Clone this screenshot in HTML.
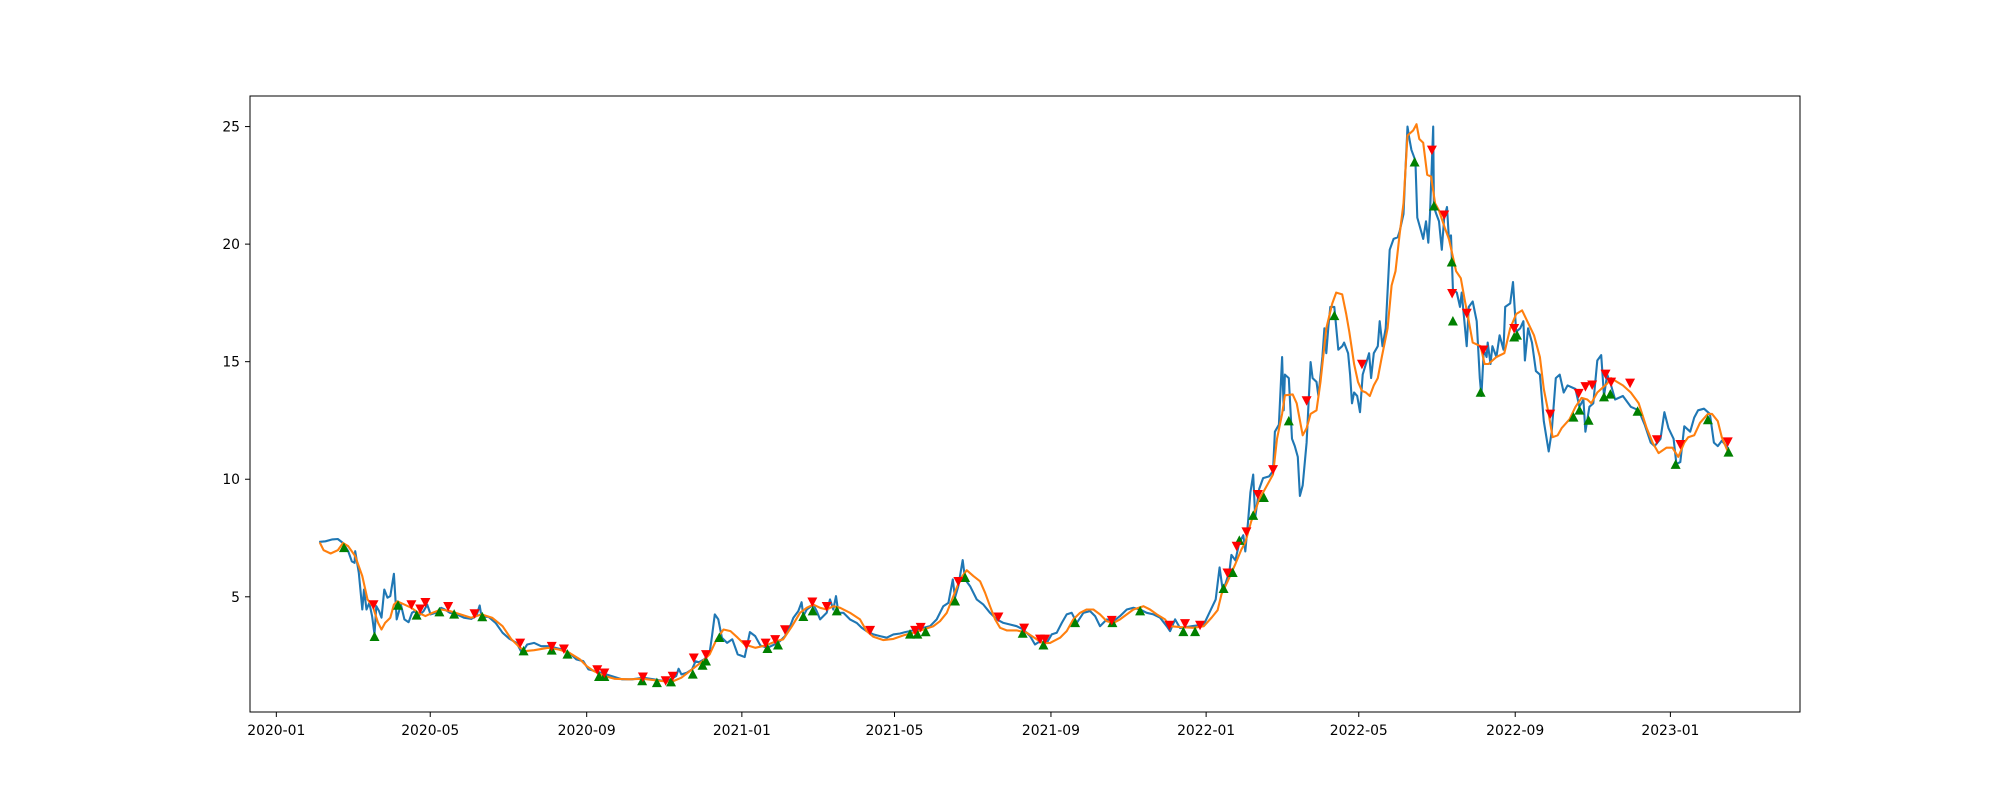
<!DOCTYPE html>
<html><head><meta charset="utf-8"><style>
html,body{margin:0;padding:0;background:#fff;}
svg{display:block;font-family:"DejaVu Sans","Liberation Sans",sans-serif;}
</style></head><body>
<svg id="chart" width="2000" height="800" viewBox="0 0 2000 800" xmlns="http://www.w3.org/2000/svg">
<rect width="2000" height="800" fill="#fff"/>
<g id="plot"></g>
<rect x="250" y="96" width="1550" height="616" fill="none" stroke="#000" stroke-width="1"/>
<g id="xaxis"></g>
<g id="yaxis"></g>
</svg>
<script>
// days since 2020-01-01
const priceDays=[34.5,38.6,44.1,48.3,52.4,56.5,59.3,61.5,62.0,64.8,67.6,68.9,70.9,73.1,75.3,77.2,78.6,80.8,82.7,84.9,87.4,89.6,92.4,94.6,97.9,100.7,104.0,106.7,108.9,111.7,115.8,118.6,121.3,125.5,129.6,132.4,136.5,142.0,147.5,153.1,157.2,159.9,161.3,166.8,172.4,177.9,183.4,188.9,193.0,197.2,202.7,208.2,213.7,219.2,224.8,230.3,235.8,241.3,245.4,251.0,255.1,263.4,271.6,279.9,288.2,296.5,304.7,310.3,314.4,316.3,318.5,322.7,326.8,329.6,332.3,336.5,340.6,342.5,344.7,347.5,350.3,354.4,358.5,362.7,368.2,372.3,376.5,380.6,386.1,391.6,395.8,399.9,403.9,406.5,410.4,413.0,414.3,417.0,422.2,424.8,427.5,432.7,435.3,437.9,440.0,441.9,445.8,451.0,456.3,460.2,464.1,469.4,474.6,479.9,485.1,490.4,494.3,498.2,503.5,508.7,513.9,519.2,524.4,528.4,531.8,533.6,536.2,539.6,541.5,545.4,550.6,555.9,561.1,566.4,571.6,576.8,582.1,587.3,592.6,596.5,600.4,605.7,609.6,613.5,617.5,621.4,625.3,629.3,634.5,639.8,643.7,647.6,652.9,658.1,663.3,668.6,673.8,679.1,684.3,689.6,694.8,700.0,702.7,706.6,710.5,719.8,729.2,733.8,738.5,741.6,744.1,746.3,749.4,750.9,754.0,757.1,760.2,761.8,764.0,765.8,768.0,769.6,772.7,775.8,780.5,783.6,785.1,788.2,790.7,792.0,792.9,796.0,798.5,800.7,803.1,804.7,806.9,810.0,813.1,814.7,817.8,819.3,822.4,824.0,825.5,827.1,828.6,831.8,834.9,838.0,839.5,842.6,844.2,845.7,847.3,849.8,852.0,854.1,856.6,859.1,860.7,862.8,866.0,867.5,869.7,872.2,875.3,878.4,881.5,883.0,886.2,887.7,889.3,890.8,892.4,895.5,897.0,900.2,901.7,903.9,905.7,907.0,909.5,910.1,912.0,914.1,916.3,918.2,920.4,921.9,923.5,925.0,928.1,930.6,931.9,934.3,935.9,937.5,940.6,943.7,946.2,947.4,949.3,951.5,952.4,954.6,956.1,959.2,961.7,964.8,966.1,970.1,972.3,974.8,977.9,980.4,981.6,984.1,987.2,990.3,993.4,996.5,1000.3,1002.7,1005.9,1009.0,1012.1,1015.2,1021.4,1024.5,1027.6,1029.2,1032.3,1035.4,1038.5,1041.6,1043.8,1046.3,1049.4,1052.5,1058.7,1064.9,1071.1,1075.8,1080.5,1083.6,1088.2,1091.3,1094.5,1098.5,1100.7,1103.8,1106.9,1111.6,1114.7,1117.8,1122.4,1127.1,1130.2,1133.3,1136.4,1141.1];
const priceValues=[7.34,7.36,7.44,7.46,7.29,6.94,6.51,6.44,6.94,6.02,4.46,5.31,4.46,4.74,4.18,3.40,4.60,4.39,4.11,5.31,4.96,5.03,5.98,4.04,4.67,4.04,3.92,4.32,4.39,4.18,4.39,4.67,4.25,4.32,4.53,4.46,4.32,4.25,4.11,4.06,4.18,4.63,4.15,4.15,3.89,3.47,3.21,3.04,2.62,2.97,3.04,2.90,2.90,2.83,2.76,2.62,2.34,2.26,1.91,1.84,1.77,1.63,1.49,1.49,1.56,1.49,1.42,1.49,1.63,1.94,1.70,1.77,1.91,2.26,2.22,2.34,2.62,3.33,4.25,4.04,3.26,3.04,3.19,2.55,2.44,3.50,3.33,2.93,2.83,2.97,3.11,3.33,3.75,4.11,4.39,4.77,4.18,4.46,4.67,4.39,4.04,4.32,4.89,4.46,5.03,4.32,4.32,4.04,3.89,3.68,3.54,3.40,3.33,3.26,3.40,3.44,3.50,3.54,3.61,3.68,3.75,4.04,4.60,4.74,5.74,4.96,5.45,6.56,5.74,5.45,4.89,4.67,4.32,4.04,3.89,3.82,3.75,3.61,3.33,2.97,3.11,3.04,3.40,3.47,3.89,4.25,4.32,3.89,4.32,4.39,4.18,3.75,4.04,3.96,4.18,4.46,4.53,4.46,4.32,4.25,4.11,3.75,3.54,4.04,3.67,3.75,3.82,4.35,4.89,6.25,5.26,5.57,6.10,6.78,6.55,7.31,7.62,6.93,8.22,9.44,10.20,8.38,9.59,10.05,10.12,10.35,12.02,12.32,15.20,12.93,14.45,14.30,11.72,11.41,10.95,9.29,9.74,11.56,14.98,14.30,14.14,13.54,15.20,16.42,15.36,16.50,17.33,17.33,15.51,15.66,15.81,15.36,14.45,13.23,13.69,13.54,12.85,14.45,14.90,15.36,14.30,15.36,15.66,16.72,15.66,16.42,19.76,20.22,20.29,20.52,21.28,23.10,25.0,24.47,24.01,23.55,21.13,20.52,20.22,20.97,20.06,21.28,25.0,21.58,21.28,20.97,19.76,21.13,21.58,20.22,20.37,18.09,17.94,17.33,17.94,16.57,15.66,17.33,17.56,16.72,14.30,13.54,15.51,15.20,15.81,14.90,15.66,15.20,16.12,15.51,17.33,17.48,18.39,16.27,16.42,16.72,15.05,16.42,15.81,14.60,14.45,12.47,11.18,12.02,14.30,14.45,13.69,13.99,13.84,13.08,13.39,12.02,13.08,13.23,15.05,15.28,13.54,14.45,13.99,13.39,13.54,13.08,12.93,12.32,11.56,11.41,11.72,12.85,12.17,11.72,10.65,10.73,12.25,12.02,12.62,12.93,13.00,12.78,11.56,11.41,11.64,11.34];
const maDays=[34.5,37.2,42.7,48.3,52.4,56.5,62.0,67.6,71.7,75.8,80.0,82.7,85.5,89.6,92.4,95.1,100.7,106.2,111.7,117.2,122.7,129.6,136.5,144.8,153.1,161.3,169.6,177.9,184.8,191.7,195.8,202.7,213.7,222.0,230.3,238.6,244.1,249.6,257.9,266.1,277.2,288.2,299.2,310.3,318.5,326.8,335.1,340.6,346.1,351.6,357.1,362.7,368.2,376.5,384.7,393.0,398.5,405.4,411.7,417.0,422.2,427.5,432.7,437.9,443.2,451.0,458.9,464.1,469.4,477.3,485.1,493.0,500.8,508.7,516.6,521.8,527.1,532.3,537.5,542.8,548.0,553.3,557.2,561.1,565.1,569.0,574.2,582.1,590.0,597.8,603.1,608.3,616.2,621.4,626.6,631.9,637.1,642.4,647.6,652.9,658.1,663.3,668.6,673.8,681.7,686.9,692.2,698.7,702.7,710.5,721.0,729.2,735.4,740.0,743.1,747.8,754.0,758.7,761.8,766.5,772.7,778.9,783.6,786.7,790.7,792.9,799.1,802.2,806.9,810.0,813.1,817.8,820.9,825.5,830.2,833.3,838.0,841.1,843.6,847.3,850.4,853.5,856.6,859.7,862.8,866.0,869.1,873.7,876.8,879.9,883.0,886.2,889.3,893.9,896.4,898.6,901.7,904.8,907.9,911.0,914.1,918.8,921.9,925.0,927.5,931.2,934.3,937.5,940.6,946.8,949.9,953.0,959.2,965.4,970.1,974.8,979.4,984.1,988.8,993.4,996.5,1000.3,1003.4,1007.4,1010.5,1016.7,1021.4,1026.1,1030.7,1033.8,1038.5,1046.3,1049.4,1054.0,1058.7,1064.9,1071.1,1077.4,1082.0,1086.7,1092.9,1097.6,1102.2,1106.9,1110.0,1114.7,1119.3,1125.5,1128.7,1133.3,1136.4,1141.1];
const maValues=[7.27,6.98,6.84,6.98,7.29,7.15,6.73,5.88,4.89,4.60,3.89,3.61,3.89,4.11,4.67,4.81,4.67,4.53,4.32,4.18,4.32,4.46,4.39,4.25,4.11,4.25,4.11,3.75,3.19,2.83,2.69,2.73,2.83,2.76,2.62,2.34,2.05,1.84,1.63,1.51,1.49,1.51,1.44,1.37,1.56,1.91,2.26,2.55,3.19,3.61,3.54,3.26,2.97,2.83,2.93,3.11,3.19,3.75,4.32,4.53,4.67,4.53,4.46,4.60,4.53,4.32,4.04,3.54,3.30,3.16,3.21,3.36,3.47,3.61,3.75,3.96,4.32,5.03,5.74,6.13,5.88,5.66,5.17,4.60,4.04,3.68,3.57,3.57,3.47,3.19,3.02,3.04,3.26,3.54,4.04,4.32,4.46,4.46,4.25,3.96,3.89,4.04,4.25,4.46,4.60,4.46,4.25,4.04,3.75,3.71,3.68,3.75,4.12,4.43,5.11,5.64,6.40,7.01,7.31,8.22,9.14,9.74,10.20,11.72,12.78,13.57,13.61,13.23,11.87,12.17,12.78,12.93,14.14,16.42,17.48,17.94,17.86,17.03,16.27,14.90,14.14,13.76,13.69,13.54,13.99,14.30,15.20,16.42,18.24,18.85,20.37,21.73,24.62,24.84,25.10,24.47,24.31,22.95,22.87,21.73,21.43,20.67,20.22,19.46,18.85,18.55,17.63,16.72,15.81,15.66,14.90,14.90,15.20,15.36,16.42,17.03,17.18,16.65,16.12,15.20,13.84,12.78,11.79,11.87,12.17,12.55,13.08,13.46,13.39,13.23,13.69,14.07,14.30,14.14,13.99,13.69,13.23,12.17,11.56,11.11,11.34,11.34,10.95,11.56,11.79,11.87,12.40,12.78,12.78,12.47,11.79,11.18];
const buyDays=[53.2,77.2,95.7,110.3,128.2,139.8,161.9,194.4,216.5,228.9,253.7,257.9,287.6,299.2,310.3,327.4,335.1,337.8,348.3,386.1,394.4,414.3,421.7,440.6,498.2,504.0,510.5,533.6,541.5,586.8,603.1,628.0,657.3,679.1,713.1,722.3,744.7,751.9,757.1,768.0,776.4,796.0,831.8,894.9,910.1,924.1,925.0,946.8,973.2,975.4,1019.8,1024.5,1031.7,1043.8,1048.8,1070.2,1100.1,1125.5,1141.7];
const buyValues=[7.08,3.30,4.63,4.21,4.35,4.25,4.14,2.69,2.72,2.55,1.60,1.60,1.42,1.34,1.37,1.70,2.08,2.26,3.26,2.79,2.94,4.15,4.39,4.39,3.40,3.40,3.50,4.81,5.81,3.44,2.94,3.89,3.89,4.39,3.51,3.51,5.34,6.02,7.39,8.45,9.21,12.47,16.95,23.48,21.61,19.23,16.72,13.69,16.04,16.12,12.63,12.93,12.50,13.49,13.61,12.88,10.62,12.52,11.14];
const sellDays=[76.4,106.2,117.2,113.1,135.1,155.8,191.7,216.5,226.1,252.3,257.9,288.2,306.1,311.6,328.2,337.8,369.6,384.7,392.2,399.9,421.4,432.7,466.8,502.2,506.6,536.2,567.7,587.9,600.4,604.4,656.8,702.1,714.4,726.2,747.8,755.0,762.7,771.7,783.6,810.0,853.5,908.5,918.2,924.4,935.9,949.0,973.2,1001.5,1023.9,1029.2,1034.5,1045.0,1049.4,1064.3,1085.4,1103.8,1141.1];
const sellValues=[4.67,4.67,4.77,4.49,4.60,4.29,3.04,2.90,2.79,1.91,1.77,1.60,1.44,1.63,2.41,2.55,2.97,3.04,3.19,3.61,4.79,4.60,3.58,3.58,3.71,5.66,4.15,3.68,3.21,3.21,4.01,3.80,3.87,3.80,6.02,7.16,7.77,9.36,10.42,13.35,14.90,24.01,21.25,17.91,17.07,15.51,16.42,12.78,13.66,13.95,14.02,14.48,14.14,14.10,11.69,11.49,11.60];
const xTickLabels=["2020-01","2020-05","2020-09","2021-01","2021-05","2021-09","2022-01","2022-05","2022-09","2023-01"];
const yTickValues=[5,10,15,20,25];

const NS="http://www.w3.org/2000/svg";
const X0=-20.7,X1=1197.9,Y0=0.1,Y1=26.3;
function xs(d){return 250+(d-X0)/(X1-X0)*1550;}
function ys(v){return 712-(v-Y0)/(Y1-Y0)*616;}
function dayOf(lbl){const p=lbl.split('-');return (Date.UTC(+p[0],+p[1]-1,1)-Date.UTC(2020,0,1))/86400000;}
function mk(tag,attrs,parent){const e=document.createElementNS(NS,tag);for(const k in attrs)e.setAttribute(k,attrs[k]);parent.appendChild(e);return e;}
const plot=document.getElementById('plot');
function line(days,vals,color,name){
  let d='';days.forEach((t,i)=>{d+=(i?'L':'M')+xs(t).toFixed(1)+' '+ys(vals[i]).toFixed(1);});
  const p=mk('path',{d:d,fill:'none',stroke:color,'stroke-width':2.1,'stroke-linejoin':'round','stroke-linecap':'square'},plot);
  
  
}
line(priceDays,priceValues,'#1f77b4','price-line');
line(maDays,maValues,'#ff7f0e','moving-average-line');
const h=8.5,w=5;
buyDays.forEach((t,i)=>{const x=xs(t),y=ys(buyValues[i]);
  const m=mk('polygon',{points:`${x},${y-h/2-1} ${x-w},${y+h/2} ${x+w},${y+h/2}`,fill:'#008000'},plot);
  
  });
sellDays.forEach((t,i)=>{const x=xs(t),y=ys(sellValues[i]);
  const m=mk('polygon',{points:`${x},${y+h/2+1} ${x-w},${y-h/2} ${x+w},${y-h/2}`,fill:'#ff0000'},plot);
  
  });
const xa=document.getElementById('xaxis');
xTickLabels.forEach(l=>{const x=xs(dayOf(l));
  const t=mk('line',{x1:x,x2:x,y1:712,y2:717,stroke:'#000','stroke-width':1},xa);
  
  
  const tx=mk('text',{x:x,y:735,'text-anchor':'middle','font-size':'13.9px',fill:'#000'},xa);
  tx.textContent=l;
  
  });
const ya=document.getElementById('yaxis');
yTickValues.forEach(v=>{const y=ys(v);
  const t=mk('line',{x1:245,x2:250,y1:y,y2:y,stroke:'#000','stroke-width':1},ya);
  
  
  const tx=mk('text',{x:240,y:y+5,'text-anchor':'end','font-size':'13.9px',fill:'#000'},ya);
  tx.textContent=v;
  
  });
</script>
</body></html>
